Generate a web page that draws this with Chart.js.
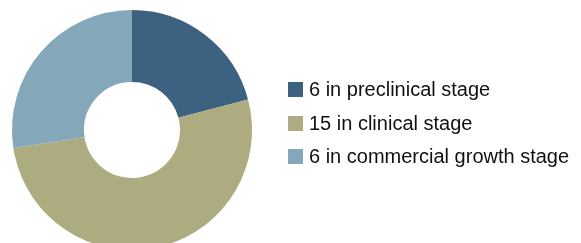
<!DOCTYPE html>
<html>
<head>
<meta charset="utf-8">
<script src="https://cdn.jsdelivr.net/npm/chart.js@4"></script>
<style>
  body { margin: 0; background: #fff; }
  #wrap { position: relative; width: 581px; height: 243px; overflow: hidden; }
  #donut { position: absolute; left: 0; top: 0; }
  #legend { position: absolute; left: 288px; top: 73px; font-family: "Liberation Sans", Arial, sans-serif; font-size: 20px; color: #111; }
  .item { height: 33.5px; display: flex; align-items: center; white-space: nowrap; }
  .box { width: 15px; height: 15px; margin-right: 6px; flex: none; }
</style>
</head>
<body>
<div id="wrap">
  <canvas id="donut" width="581" height="260"></canvas>
  <div id="legend"></div>
</div>
<script>
const stages = ['preclinical stage', 'clinical stage', 'commercial growth stage'];
const counts = [6, 15, 6];
// share of the ring each slice takes, as drawn in the picture (%)
const shares = [20.9, 51.7, 27.4];
const colors = ['#3d6281', '#adac80', '#84a7ba'];

const labels = stages.map((s, i) => counts[i] + ' in ' + s);

document.addEventListener('DOMContentLoaded', function() {
  const ctx = document.getElementById('donut').getContext('2d');
  new Chart(ctx, {
    type: 'doughnut',
    data: {
      labels: labels,
      datasets: [{
        data: shares,
        backgroundColor: colors,
        borderWidth: 0
      }]
    },
    options: {
      responsive: false,
      animation: false,
      cutout: '40%',
      layout: { padding: { left: 12, top: 10, right: 329, bottom: 10 } },
      plugins: {
        legend: { display: false },
        tooltip: { enabled: false }
      }
    }
  });

  const legend = document.getElementById('legend');
  labels.forEach(function(text, i) {
    const row = document.createElement('div');
    row.className = 'item';
    const box = document.createElement('span');
    box.className = 'box';
    box.style.background = colors[i];
    const span = document.createElement('span');
    span.textContent = text;
    row.appendChild(box);
    row.appendChild(span);
    legend.appendChild(row);
  });
});
</script>
</body>
</html>
